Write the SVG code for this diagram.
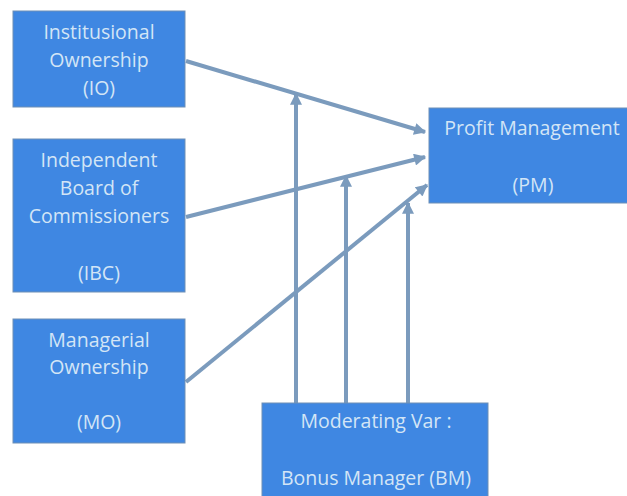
<svg xmlns="http://www.w3.org/2000/svg" width="627" height="496" viewBox="0 0 627 496">
  <defs>
    <marker id="arrow" viewBox="0 0 10 10" refX="9" refY="5" markerWidth="3.2" markerHeight="3" orient="auto" markerUnits="strokeWidth">
      <path d="M0,0 L10,5 L0,10 Z" fill="#7b9bbd"/>
    </marker>
    <style>
      .box { fill: #3f87e2; stroke: #6f8fb5; stroke-width: 1; }
      .lbl { font-family: "Open Sans", "Liberation Sans", sans-serif; font-size: 19.5px; fill: #d3e5f6; text-anchor: middle; }
      .link { stroke: #7b9bbd; stroke-width: 4; fill: none; marker-end: url(#arrow); }
    </style>
  </defs>
  <rect width="627" height="496" fill="#ffffff"/>

  <g id="connectors">
    <!-- independent variables to Profit Management -->
    <line class="link" x1="186" y1="61" x2="425" y2="132"/>
    <line class="link" x1="186" y1="217" x2="425" y2="157"/>
    <line class="link" x1="186" y1="382" x2="427" y2="185"/>
    <!-- moderator onto each path -->
    <line class="link" x1="296" y1="403" x2="296" y2="94"/>
    <line class="link" x1="346" y1="403" x2="346" y2="176"/>
    <line class="link" x1="408" y1="403" x2="408" y2="203"/>
  </g>

  <g id="node-io">
    <rect class="box" x="13" y="11" width="172" height="96"/>
    <text class="lbl" x="99" y="39">Institusional</text>
    <text class="lbl" x="99" y="67">Ownership</text>
    <text class="lbl" x="99" y="95">(IO)</text>
  </g>

  <g id="node-ibc">
    <rect class="box" x="13" y="139" width="172" height="153"/>
    <text class="lbl" x="99" y="167">Independent</text>
    <text class="lbl" x="99" y="195">Board of</text>
    <text class="lbl" x="99" y="223">Commissioners</text>
    <text class="lbl" x="99" y="280">(IBC)</text>
  </g>

  <g id="node-mo">
    <rect class="box" x="13" y="319" width="172" height="124"/>
    <text class="lbl" x="99" y="347">Managerial</text>
    <text class="lbl" x="99" y="374">Ownership</text>
    <text class="lbl" x="99" y="429">(MO)</text>
  </g>

  <g id="node-pm">
    <rect class="box" x="429" y="108" width="208" height="95"/>
    <text class="lbl" x="532" y="135">Profit Management</text>
    <text class="lbl" x="533" y="192">(PM)</text>
  </g>

  <g id="node-bm">
    <rect class="box" x="262" y="403" width="226" height="100"/>
    <text class="lbl" x="376" y="428">Moderating Var :</text>
    <text class="lbl" x="376" y="485">Bonus Manager (BM)</text>
  </g>
</svg>
